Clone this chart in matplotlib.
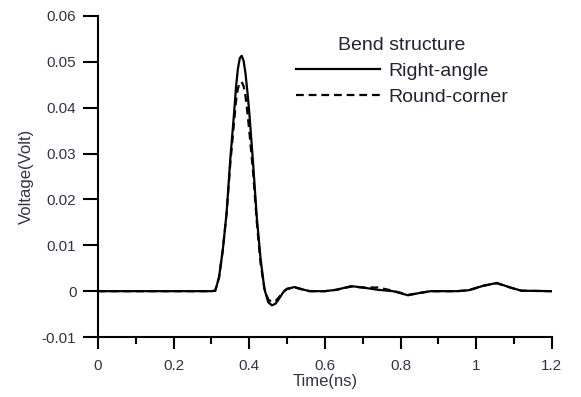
import matplotlib.pyplot as plt
from matplotlib.ticker import MultipleLocator, FuncFormatter

plt.rcParams['font.family'] = ['Liberation Sans', 'DejaVu Sans']

# tijd (ns) en spanning (V)
t_right = [0.0, 0.30, 0.31, 0.32, 0.33, 0.34, 0.35, 0.36, 0.365, 0.37, 0.375, 0.38, 0.385,
           0.39, 0.395, 0.40, 0.41, 0.42, 0.43, 0.44, 0.45, 0.46, 0.47, 0.48, 0.49,
           0.50, 0.52, 0.54, 0.56, 0.60, 0.63, 0.67, 0.70, 0.74, 0.78, 0.82, 0.85,
           0.88, 0.95, 0.98, 1.02, 1.055, 1.09, 1.12, 1.2]
v_right = [0.0, 0.0, 0.0001, 0.003, 0.009, 0.017, 0.029, 0.039, 0.0445, 0.0485, 0.0508, 0.0513, 0.0502,
           0.0475, 0.0435, 0.039, 0.028, 0.016, 0.007, 0.0005, -0.0024, -0.0031, -0.0027, -0.0015, -0.0002,
           0.0005, 0.0009, 0.0004, 0.0, 0.0, 0.0003, 0.0011, 0.0008, 0.0003, 0.0, -0.0009, -0.0004,
           0.0, 0.0, 0.0002, 0.0012, 0.0018, 0.0008, 0.0001, 0.0]

t_round = [0.0, 0.30, 0.31, 0.32, 0.33, 0.34, 0.35, 0.36, 0.365, 0.37, 0.375, 0.38, 0.385,
           0.39, 0.395, 0.40, 0.41, 0.42, 0.43, 0.44, 0.45, 0.46, 0.47, 0.48, 0.49,
           0.50, 0.52, 0.54, 0.56, 0.60, 0.63, 0.67, 0.70, 0.74, 0.78, 0.82, 0.85,
           0.88, 0.95, 0.98, 1.02, 1.055, 1.09, 1.12, 1.2]
v_round = [0.0, 0.0, 0.0001, 0.003, 0.009, 0.017, 0.028, 0.037, 0.0415, 0.0442, 0.0455, 0.0456, 0.0447,
           0.0425, 0.039, 0.035, 0.026, 0.015, 0.006, 0.0006, -0.0018, -0.0024, -0.0021, -0.0012, -0.0001,
           0.0005, 0.0008, 0.0004, 0.0, 0.0, 0.0003, 0.0010, 0.0008, 0.0008, 0.0001, -0.0008, -0.0004,
           0.0, 0.0, 0.0002, 0.0012, 0.0017, 0.0008, 0.0001, 0.0]

fig = plt.figure(figsize=(5.81, 3.97), dpi=100)
ax = fig.add_axes([0.1687, 0.151, 0.781, 0.809])

ax.plot(t_right, v_right, color='black', lw=1.6, label='Right-angle')
ax.plot(t_round, v_round, color='black', lw=1.6, dashes=(3.5, 2.2), label='Round-corner')

# assen
ax.set_xlim(0, 1.2)
ax.set_ylim(-0.01, 0.06)
ax.spines['top'].set_visible(False)
ax.spines['right'].set_visible(False)
for s in ['left', 'bottom']:
    ax.spines[s].set_linewidth(1.5)

ax.xaxis.set_major_locator(MultipleLocator(0.2))
ax.xaxis.set_minor_locator(MultipleLocator(0.1))
ax.yaxis.set_major_locator(MultipleLocator(0.01))
fmt = FuncFormatter(lambda v, p: f'{round(v, 4):g}')
ax.xaxis.set_major_formatter(fmt)
ax.yaxis.set_major_formatter(fmt)

tick_col = '#333344'
ax.tick_params(axis='x', which='major', direction='out', length=8.5, width=1.5,
               labelsize=11, pad=7, labelcolor=tick_col)
ax.tick_params(axis='x', which='minor', direction='out', length=5, width=1.5)
ax.tick_params(axis='y', which='major', direction='out', length=10.5, width=1.5,
               labelsize=11, pad=5, labelcolor=tick_col)

ax.set_xlabel('Time(ns)', fontsize=12, color=tick_col, labelpad=1)
ax.set_ylabel('Voltage(Volt)', fontsize=12, color=tick_col, labelpad=6)

# legenda
leg = ax.legend(title='Bend structure', loc='upper left', bbox_to_anchor=(296 / 581, 1 - 37 / 397),
                bbox_transform=fig.transFigure, frameon=False, fontsize=14, title_fontsize=14,
                handlelength=4.3, handletextpad=0.45, labelspacing=0.42, borderpad=0, borderaxespad=0)
for txt in leg.get_texts():
    txt.set_color('#222233')
leg.get_title().set_color('#222233')

fig.savefig('out.png', dpi=100)
